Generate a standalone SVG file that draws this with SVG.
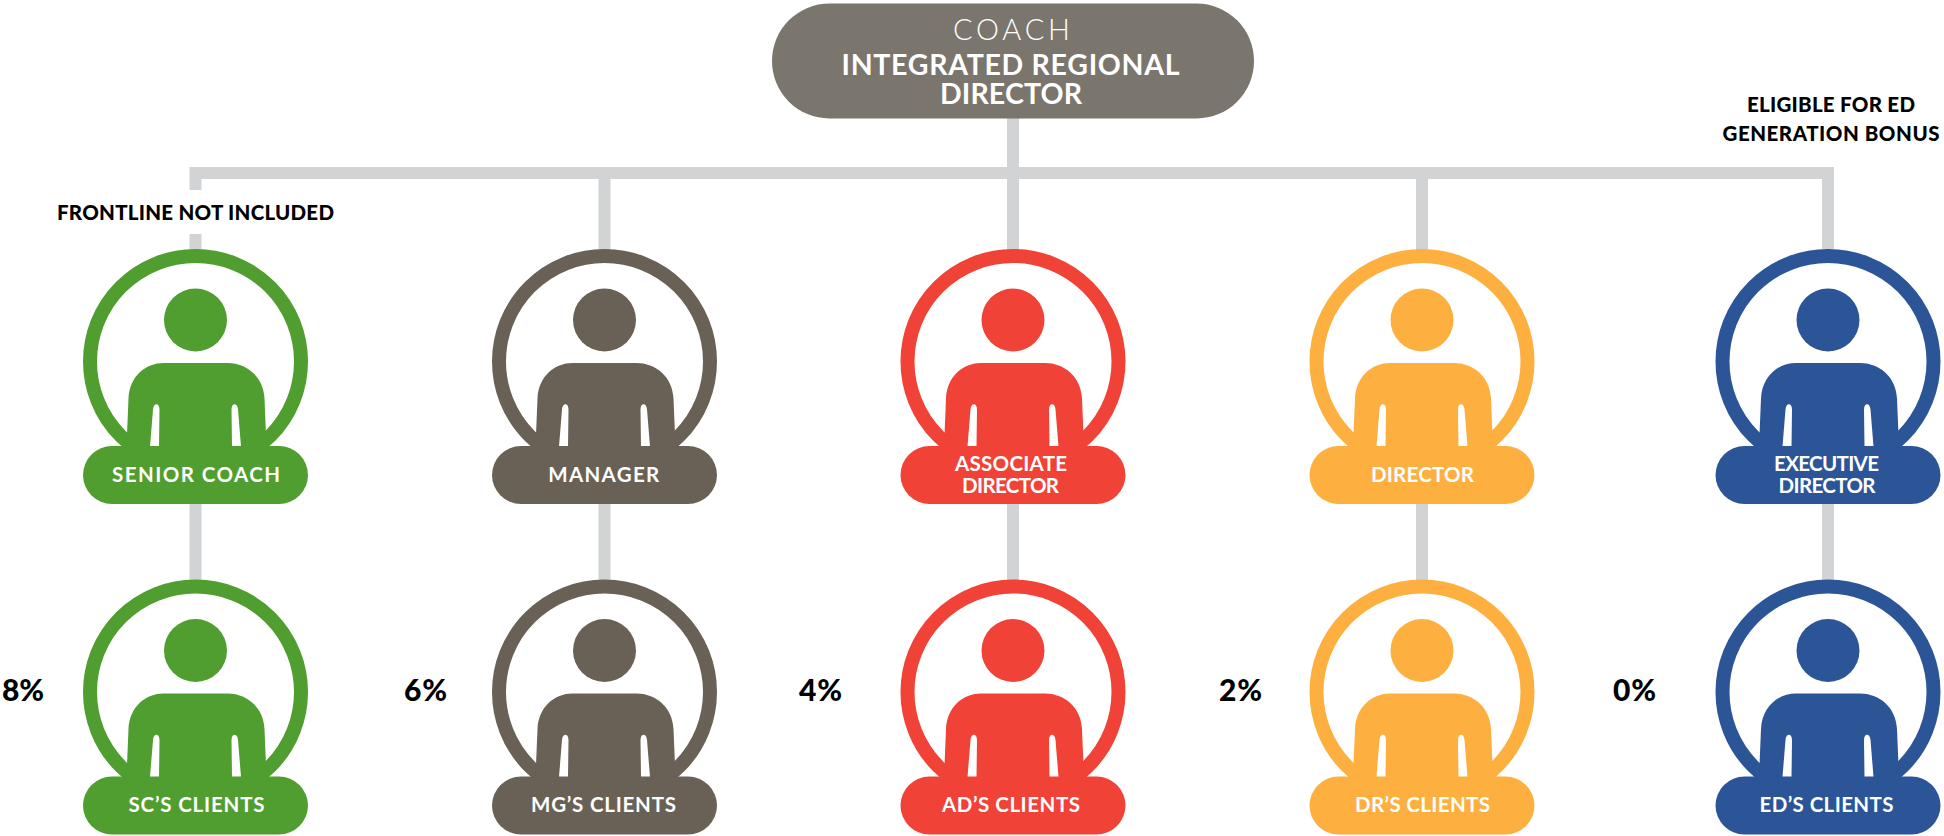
<svg xmlns="http://www.w3.org/2000/svg" width="1944" height="836" viewBox="0 0 1944 836">
<style>
text{font-family:"Lato","Liberation Sans",sans-serif;font-weight:700;text-anchor:middle}
.l{fill:#fff;font-size:20.500px}
.k{fill:#000;font-size:20.500px;font-weight:900}
.p{fill:#000;font-size:30px;font-weight:900}
.t{fill:#fff;font-size:28.500px}
.c{fill:none;stroke:#d1d3d4;stroke-width:12}
.ring{fill:#fff;stroke:currentColor;stroke-width:14}
.g{color:#4f9e2f}.m{color:#696156}.r{color:#f04236}.o{color:#fdb040}.b{color:#2b5597}
</style>
<defs>
<g id="person">
<circle class="ring" cx="0" cy="0" r="105.500"/>
<g fill="currentColor">
<circle cx="0" cy="-41.500" r="31.500"/>
<path fill-rule="evenodd" d="M-69 85L-67 37C-66 15-50 1.500-32 1.500H32C51 1.500 68 15 69 37L71 85ZM-45.500 85L-42.500 48C-42 41-36 41-36 48L-36.500 85ZM45.500 85L42.500 48C42 41 36 41 36 48L36.500 85Z"/>
<rect x="-112.500" y="84.500" width="225" height="58" rx="29"/>
</g>
</g>
</defs>
<g id="connectors">
<path class="c" d="M195.500 190V173H1828V249"/>
<path class="c" d="M195.500 234V260M604.500 173V260M1013 118V260M1422 173V260"/>
<path class="c" d="M195.500 500V590M604.500 500V590M1013 500V590M1422 500V590M1828 500V590"/>
</g>
<g id="node-coach">
<rect x="772" y="3.500" width="482" height="115" rx="57.500" fill="#7a756d"/>
<text x="1011.500" y="40" style="font-weight:300;font-size:29px" fill="#fff" textLength="117" lengthAdjust="spacing">COACH</text>
<text x="1010.500" y="75" class="t" textLength="338" lengthAdjust="spacing">INTEGRATED REGIONAL</text>
<text x="1011" y="104" class="t" textLength="142" lengthAdjust="spacing">DIRECTOR</text>
</g>
<g id="note-frontline"><text x="195.500" y="220" class="k" textLength="277" lengthAdjust="spacing">FRONTLINE NOT INCLUDED</text></g>
<g id="note-eligible"><text x="1831" y="111.500" class="k" textLength="168" lengthAdjust="spacing">ELIGIBLE FOR ED</text><text x="1831" y="141" class="k" textLength="217" lengthAdjust="spacing">GENERATION BONUS</text></g>
<g id="node-sc" class="g"><use href="#person" x="195.500" y="361.500"/><text x="196" y="481.500" class="l" textLength="168" lengthAdjust="spacing">SENIOR COACH</text></g>
<g id="node-mg" class="m"><use href="#person" x="604.500" y="361.500"/><text x="603.700" y="481.500" class="l" textLength="111" lengthAdjust="spacing">MANAGER</text></g>
<g id="node-ad" class="r"><use href="#person" x="1013" y="361.500"/><text x="1011" y="470.500" class="l" textLength="112" lengthAdjust="spacing">ASSOCIATE</text><text x="1010.500" y="492.500" class="l" textLength="97" lengthAdjust="spacing">DIRECTOR</text></g>
<g id="node-dr" class="o"><use href="#person" x="1422" y="361.500"/><text x="1422.500" y="481.500" class="l" textLength="103" lengthAdjust="spacing">DIRECTOR</text></g>
<g id="node-ed" class="b"><use href="#person" x="1828" y="361.500"/><text x="1826.500" y="470.500" class="l" textLength="105" lengthAdjust="spacing">EXECUTIVE</text><text x="1827" y="492.500" class="l" textLength="97" lengthAdjust="spacing">DIRECTOR</text></g>
<g id="client-sc" class="g"><use href="#person" x="195.500" y="692"/><text x="196.500" y="811.700" class="l" textLength="136" lengthAdjust="spacing">SC’S CLIENTS</text></g>
<g id="client-mg" class="m"><use href="#person" x="604.500" y="692"/><text x="603.500" y="811.700" class="l" textLength="145" lengthAdjust="spacing">MG’S CLIENTS</text></g>
<g id="client-ad" class="r"><use href="#person" x="1013" y="692"/><text x="1011" y="811.700" class="l" textLength="138" lengthAdjust="spacing">AD’S CLIENTS</text></g>
<g id="client-dr" class="o"><use href="#person" x="1422" y="692"/><text x="1422.500" y="811.700" class="l" textLength="135" lengthAdjust="spacing">DR’S CLIENTS</text></g>
<g id="client-ed" class="b"><use href="#person" x="1828" y="692"/><text x="1826.500" y="811.700" class="l" textLength="134" lengthAdjust="spacing">ED’S CLIENTS</text></g>
<g id="percentages">
<text x="23" y="701" class="p" textLength="42">8%</text>
<text x="425.500" y="701" class="p" textLength="43">6%</text>
<text x="820.500" y="701" class="p" textLength="43">4%</text>
<text x="1240.500" y="701" class="p" textLength="43">2%</text>
<text x="1634.500" y="701" class="p" textLength="43">0%</text>
</g>
</svg>
